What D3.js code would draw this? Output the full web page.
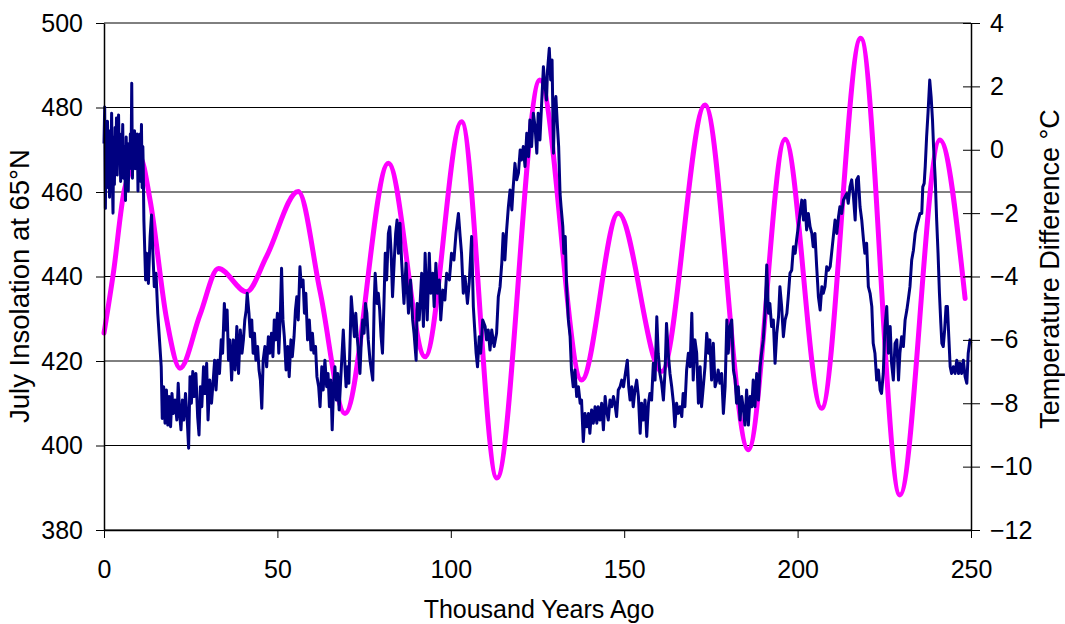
<!DOCTYPE html>
<html>
<head>
<meta charset="utf-8">
<script src="https://cdn.jsdelivr.net/npm/d3@7"></script>
<style>
  html, body { margin: 0; padding: 0; background: #fff; }
  svg { display: block; font-family: "Liberation Sans", Arial, sans-serif; }
</style>
</head>
<body>
<svg id="chart" width="1065" height="624"></svg>
<script>
// ---------- data ----------
const xTicks = [0, 50, 100, 150, 200, 250];
const leftTicks = [380, 400, 420, 440, 460, 480, 500];
const rightTicks = [-12, -10, -8, -6, -4, -2, 0, 2, 4];

// July insolation at 65°N (W/m²), magenta, left axis
const insolKyr = [0, 2.7, 6, 10.5, 13.3, 18.1, 21.9, 27.7, 33, 41.1, 46.9, 56, 62.3, 69.5, 82, 92.6, 103.1, 113.3, 125.7, 137.7, 148.3, 160.8, 173.3, 185.8, 196.4, 206.9, 218.2, 229.5, 241, 248.3];
const insolVal = [426.6, 440.8, 461, 468, 458, 429.7, 418.3, 431, 441.9, 436.4, 444.8, 460.1, 436.5, 407.6, 466.8, 421, 476.6, 392.3, 486.5, 415.5, 455, 417.5, 480.6, 399, 472.5, 408.8, 496.4, 388.3, 472.3, 434.8];

// Temperature difference (°C), navy, right axis
const tempKyr = [
  0.0,0.2,0.4,0.6,0.8,1.0,1.2,1.4,1.6,1.8,2.0,2.2,2.4,2.6,2.8,3.0,3.2,3.4,3.6,3.8,
  4.0,4.2,4.4,4.6,4.8,5.0,5.2,5.4,5.6,5.8,6.0,6.2,6.4,6.6,6.8,7.0,7.2,7.4,7.6,7.8,
  8.0,8.2,8.4,8.6,8.8,9.0,9.2,9.4,9.6,9.8,10.0,10.2,10.4,10.6,10.8,11.0,11.2,
  11.3,11.5,12.0,12.3,12.8,13.3,13.7,14.1,14.5,15.0,15.5,16.0,16.5,16.8,17.2,17.6,18.0,18.4,18.8,19.2,
  19.6,20.0,20.5,21.0,21.4,21.8,22.2,22.6,23.0,23.5,24.0,24.4,24.8,25.2,25.6,26.0,26.5,27.0,27.4,27.8,
  28.2,28.7,29.1,29.6,30.0,30.5,31.0,31.5,31.9,32.3,32.8,33.3,33.8,34.2,34.7,35.1,35.5,35.9,36.3,36.8,
  37.3,37.8,38.3,38.8,39.3,39.8,40.2,40.6,41.0,41.3,41.8,42.2,42.6,43.0,43.4,43.8,44.3,44.7,45.1,45.5,
  45.9,46.4,46.9,47.4,47.8,48.3,48.7,49.1,49.5,50.0,50.4,50.8,51.2,51.6,52.0,52.5,53.0,53.4,53.9,54.3,
  54.8,55.2,55.6,56.0,56.5,56.9,57.4,57.8,58.2,58.7,59.2,59.7,60.1,60.5,61.0,61.4,61.9,62.3,62.8,63.2,
  63.7,64.2,64.6,65.0,65.4,65.8,66.2,66.6,67.0,67.4,67.8,68.2,68.6,69.0,69.4,69.8,70.2,70.6,71.0,71.3,
  71.8,72.2,72.6,73.0,73.4,73.8,74.2,74.6,75.0,75.4,75.8,76.2,76.7,77.1,77.5,77.9,78.2,78.7,79.1,79.5,
  79.9,80.3,80.7,81.1,81.5,82.0,82.4,82.8,83.2,83.7,84.1,84.5,84.9,85.35,85.8,86.5,87.1,87.8,88.4,89.0,
  89.4,90.0,90.3,90.9,91.6,92.1,92.6,93.2,93.8,94.2,94.8,95.2,95.7,96.1,96.7,97.1,97.7,98.3,98.8,99.6,
  100.2,100.9,101.5,102.2,102.7,103.1,103.6,104.1,104.8,105.3,106.0,106.5,107.3,107.7,108.2,108.6,109.2,109.9,110.3,110.8,
  111.3,111.8,112.5,113.2,113.7,114.2,114.7,115.1,115.6,116.1,116.6,117.1,117.6,118.0,118.5,119.0,119.5,120.0,120.4,120.9,
  121.4,121.9,122.4,122.8,123.3,123.8,124.3,124.8,125.2,125.7,126.2,126.7,127.2,127.6,127.9,128.4,128.8,129.2,129.6,129.9,
  130.3,130.7,131.1,131.5,131.8,132.3,132.6,133.0,133.4,133.9,134.4,134.8,135.3,135.8,136.3,136.8,137.3,137.7,138.2,138.7,
  139.2,139.7,140.1,140.6,141.1,141.6,142.1,142.5,143.0,143.5,144.0,144.5,144.9,145.4,145.9,146.4,146.9,147.3,147.8,148.3,
  148.8,149.3,149.8,150.2,150.9,151.3,151.7,152.2,152.6,153.1,153.6,154.1,154.6,155.0,155.5,156.0,156.5,157.0,157.4,157.9,
  158.4,158.9,159.4,159.8,160.3,160.8,161.3,161.8,162.2,162.7,163.2,163.7,164.2,164.6,165.1,165.6,166.1,166.6,167.0,167.5,
  168.0,168.5,169.0,169.5,169.9,170.4,170.9,171.4,171.9,172.3,172.8,173.3,173.8,174.3,174.7,175.2,175.7,176.2,176.7,177.1,
  177.6,178.1,178.6,179.1,179.6,180.0,180.5,181.0,181.5,182.0,182.4,182.9,183.4,183.9,184.4,184.8,185.3,185.8,186.3,186.8,
  187.2,187.7,188.2,188.7,189.2,189.6,190.1,190.6,191.1,191.6,192.0,192.5,193.0,193.5,194.0,194.5,194.9,195.4,195.9,196.4,
  196.9,197.3,197.8,198.3,198.8,199.3,199.7,200.2,200.7,201.2,201.7,202.1,202.6,203.1,203.6,204.1,204.5,205.0,205.5,206.0,
  206.5,207.0,207.4,207.9,208.4,208.9,209.4,209.8,210.3,210.8,211.3,211.8,212.2,212.7,213.2,213.7,214.2,214.6,215.1,215.6,
  216.1,216.6,217.0,217.5,218.0,218.5,219.0,219.4,219.9,220.4,220.9,221.4,221.8,222.3,222.8,223.3,223.8,224.2,224.7,225.2,
  225.7,226.2,226.7,227.1,227.6,228.1,228.6,229.1,229.5,230.0,230.5,231.0,231.5,231.9,232.4,232.9,233.4,233.9,234.3,234.8,
  235.3,235.8,236.1,236.5,236.8,237.2,237.6,238.1,238.5,238.9,239.2,239.7,240.1,240.5,240.9,241.3,241.6,242.0,242.4,242.8,
  243.2,243.6,244.0,244.4,244.9,245.4,245.9,246.4,246.8,247.3,247.8,248.3,248.8,249.2,249.7,250.0
];
const tempVal = [
  0.2,1.35,-1.85,0.5,-1.2,0.9,-0.6,0.3,-1.5,0.6,-0.3,1.15,-0.9,-2.0,0.4,-1.1,0.7,-0.5,1.0,-0.8,
  0.2,1.1,-0.4,0.5,-1.0,0.3,-0.2,0.8,-0.9,0.1,-0.5,-1.6,0.4,-0.7,0.2,-1.3,0.0,-0.6,0.5,-0.4,
  2.1,-0.9,0.3,-0.3,0.6,-0.6,0.2,-0.4,0.5,-1.3,0.4,-0.8,0.5,-1.0,0.8,-1.2,0.1,
  -0.43,-2.22,-4.11,-3.27,-4.22,-2.74,-2.06,-3.27,-4.32,-3.9,-5.16,-6.0,-6.85,-8.48,-7.48,-8.63,-7.58,-8.69,-7.79,-8.74,
  -7.69,-8.32,-7.9,-8.53,-7.37,-8.32,-8.84,-7.9,-8.53,-7.69,-8.53,-9.42,-7.16,-8.0,-7.0,-7.79,-7.06,-8.42,-9.0,-7.48,
  -8.11,-6.85,-7.69,-6.74,-8.53,-7.27,-8.0,-7.27,-6.64,-7.58,-6.64,-7.06,-6.0,-6.42,-4.85,-5.69,-5.06,-6.64,-6.0,-7.27,
  -6.0,-6.95,-5.58,-7.06,-5.69,-6.42,-6.0,-5.37,-5.06,-4.53,-5.16,-5.9,-5.37,-6.42,-5.79,-6.64,-6.21,-6.95,-7.27,-8.16,
  -6.64,-6.21,-6.85,-5.9,-6.42,-5.79,-6.53,-5.37,-6.0,-5.16,-6.42,-5.37,-3.74,-5.37,-5.9,-6.95,-6.21,-7.16,-6.0,-6.53,
  -5.9,-5.06,-4.64,-5.37,-3.69,-4.32,-4.11,-5.16,-4.53,-6.0,-5.37,-6.32,-5.79,-6.42,-6.21,-7.16,-7.48,-8.11,-6.85,-7.58,
  -6.64,-7.48,-7.06,-8.11,-7.27,-8.84,-7.48,-6.85,-7.9,-7.06,-8.21,-7.37,-6.53,-5.69,-6.64,-7.48,-6.85,-7.37,-5.9,-4.64,
  -5.37,-5.9,-5.16,-5.9,-6.42,-7.06,-6.0,-5.37,-5.79,-4.85,-5.16,-6.0,-6.64,-6.95,-7.27,-4.85,-3.9,-4.85,-4.53,-5.06,
  -5.9,-6.42,-4.95,-3.27,-4.11,-2.64,-2.43,-3.27,-4.64,-3.48,-2.64,-2.22,-3.27,-2.32,-3.48,-4.85,-3.58,-5.16,-4.11,-5.37,
  -5.79,-6.64,-4.85,-5.37,-3.9,-5.58,-3.27,-5.37,-3.27,-4.53,-3.9,-4.95,-3.58,-4.53,-4.11,-5.37,-4.43,-4.74,-3.9,-4.11,
  -3.27,-3.48,-2.64,-2.01,-2.74,-3.27,-4.53,-4.0,-4.85,-4.22,-2.74,-4.95,-6.42,-6.85,-5.9,-6.42,-5.37,-5.58,-6.0,-5.69,
  -6.32,-5.69,-6.21,-5.79,-4.64,-4.32,-3.58,-2.64,-3.48,-2.53,-1.8,-1.27,-1.9,-1.17,-0.43,-0.95,-0.74,-0.01,-0.32,0.1,
  -0.53,0.52,-0.22,0.94,0.1,1.15,0.73,-0.11,1.15,0.31,1.47,2.62,1.99,1.57,2.52,3.2,2.2,2.83,-0.11,1.36,
  1.68,0.83,0.1,-1.38,-1.8,-2.43,-3.27,-2.74,-4.32,-5.37,-5.9,-6.95,-7.48,-6.95,-7.79,-7.48,-8.0,-7.9,-9.21,-8.32,
  -8.74,-8.32,-8.95,-8.21,-8.63,-8.11,-8.63,-8.11,-8.53,-8.0,-8.84,-7.79,-8.21,-8.53,-7.9,-8.11,-7.79,-8.0,-8.42,-7.58,
  -7.48,-7.27,-7.48,-7.16,-6.64,-7.48,-7.9,-7.48,-8.11,-7.58,-7.27,-7.79,-8.95,-8.0,-8.53,-7.9,-9.05,-8.0,-7.69,-7.9,
  -6.74,-7.27,-5.27,-6.42,-7.06,-7.37,-7.9,-6.95,-5.48,-6.42,-7.06,-7.48,-8.0,-8.74,-8.0,-8.32,-8.11,-8.42,-7.69,-8.11,
  -6.95,-6.42,-6.85,-5.16,-7.27,-6.0,-6.42,-8.0,-6.85,-8.11,-7.48,-6.85,-5.79,-6.42,-6.0,-7.27,-6.11,-7.48,-7.27,-6.95,
  -7.37,-7.06,-8.32,-7.48,-5.37,-6.42,-5.58,-5.37,-6.95,-7.27,-8.0,-7.48,-8.53,-7.79,-8.21,-8.69,-7.58,-8.69,-7.79,-8.11,
  -7.27,-8.11,-7.06,-7.9,-6.85,-6.42,-6.0,-5.16,-3.64,-5.16,-4.85,-5.58,-5.37,-6.74,-5.79,-5.27,-4.32,-4.95,-5.9,-5.37,
  -5.16,-4.64,-3.9,-3.8,-3.06,-3.27,-2.85,-2.43,-2.01,-1.59,-2.22,-1.59,-2.53,-2.01,-2.43,-2.64,-3.06,-2.64,-3.69,-4.64,
  -5.06,-4.32,-4.53,-4.32,-3.69,-3.8,-3.69,-3.27,-2.74,-2.22,-2.64,-2.11,-1.8,-2.01,-1.59,-1.48,-1.38,-1.69,-1.17,-0.95,
  -1.48,-2.22,-0.95,-0.85,-1.8,-2.22,-2.85,-3.27,-2.95,-4.32,-4.53,-4.95,-6.11,-6.42,-7.27,-6.95,-7.58,-7.69,-7.06,-5.58,
  -4.95,-6.42,-5.58,-6.74,-7.27,-6.11,-6.0,-7.27,-6.42,-5.9,-6.21,-5.37,-5.06,-4.74,-4.32,-3.48,-3.17,-2.64,-2.43,-2.22,
  -2.01,-2.01,-1.17,-1.06,-0.53,0.41,1.15,2.2,1.68,0.94,0.1,-0.95,-2.22,-3.27,-4.53,-5.48,-6.11,-6.21,-5.69,-4.95,
  -4.95,-5.9,-6.85,-7.06,-6.85,-7.06,-6.64,-7.06,-6.74,-7.06,-6.64,-7.16,-7.37,-6.42,-6.0,-6.11
];

// ---------- chart ----------
const svg = d3.select("#chart");
const L = 104, R = 971, T = 23, B = 530;

const x = d3.scaleLinear().domain([0, 250]).range([L, R]);
const yL = d3.scaleLinear().domain([380, 500]).range([B, T]);
const yR = d3.scaleLinear().domain([-12, 4]).range([B, T]);

// gridlines
svg.append("g").selectAll("line").data(leftTicks).join("line")
  .attr("x1", L).attr("x2", R)
  .attr("y1", d => yL(d)).attr("y2", d => yL(d))
  .attr("stroke", "#000").attr("stroke-width", 1);

// insolation (magenta)
const insol = insolKyr.map((k, i) => [k, insolVal[i]]);
svg.append("path").datum(insol)
  .attr("fill", "none").attr("stroke", "#FF00FF").attr("stroke-width", 5)
  .attr("stroke-linejoin", "round").attr("stroke-linecap", "round")
  .attr("d", d3.line().x(d => x(d[0])).y(d => yL(d[1])).curve(d3.curveMonotoneX));

// temperature (navy)
const temp = tempKyr.map((k, i) => [k, tempVal[i]]);
svg.append("path").datum(temp)
  .attr("fill", "none").attr("stroke", "#000080").attr("stroke-width", 3)
  .attr("stroke-linejoin", "round")
  .attr("d", d3.line().x(d => x(d[0])).y(d => yR(d[1])));

// axes
const fontSize = "25px";
const gL = svg.append("g").attr("transform", `translate(${L},0)`)
  .call(d3.axisLeft(yL).tickValues(leftTicks).tickSize(8).tickSizeOuter(0).tickPadding(13));
const gR = svg.append("g").attr("transform", `translate(${R},0)`)
  .call(d3.axisRight(yR).tickValues(rightTicks).tickSize(9).tickSizeOuter(0).tickPadding(10));
gR.selectAll(".tick line").attr("x1", -8);
const gB = svg.append("g").attr("transform", `translate(0,${B})`)
  .call(d3.axisBottom(x).tickValues(xTicks).tickSize(8).tickSizeOuter(0).tickPadding(22));

[gL, gR, gB].forEach(g => {
  g.selectAll("text").attr("font-size", fontSize).attr("fill", "#000")
    .attr("font-family", "'Liberation Sans', Arial, sans-serif");
  g.selectAll("line").attr("stroke", "#000");
  g.select(".domain").attr("stroke", "#000").attr("stroke-width", 1.5);
});

// titles
svg.append("text").attr("x", 539).attr("y", 618).attr("text-anchor", "middle")
  .attr("font-size", "25px").text("Thousand Years Ago");
svg.append("text").attr("transform", "translate(29,286) rotate(-90)").attr("text-anchor", "middle")
  .attr("font-size", "27.5px").text("July Insolation at 65°N");
svg.append("text").attr("transform", "translate(1059,269) rotate(-90)").attr("text-anchor", "middle")
  .attr("font-size", "27px").text("Temperature Difference °C");
</script>
</body>
</html>
